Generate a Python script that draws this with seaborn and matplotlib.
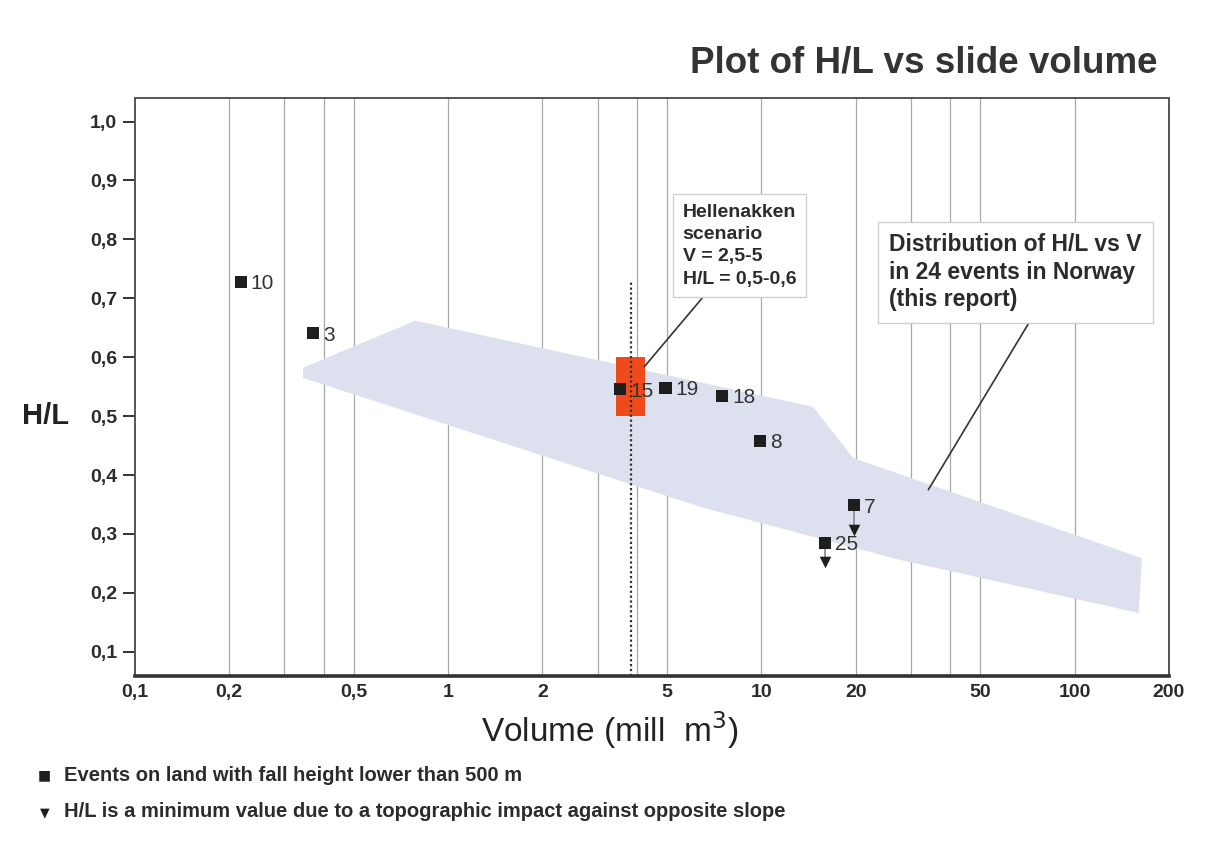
import numpy as np
import pandas as pd
import matplotlib
matplotlib.use("Agg")
import matplotlib.pyplot as plt
import seaborn as sns

# ===== Data =====
event_ids = ["10", "3", "15", "19", "18", "8", "7", "25"]
volume = [0.218, 0.371, 3.54, 4.94, 7.51, 9.91, 19.7, 16.0]
hl_ratio = [0.728, 0.641, 0.546, 0.548, 0.535, 0.458, 0.349, 0.285]

# minimum-value markers (triangles)
min_volume = [19.7, 16.0]
min_hl = [0.307, 0.252]

# distribution envelope for 24 Norwegian events
env_volume = [0.344, 0.785, 14.6, 19.6, 164, 160, 27.7, 6.38, 0.344]
env_hl = [0.582, 0.662, 0.516, 0.429, 0.259, 0.166, 0.256, 0.346, 0.565]

# Hellenakken scenario box
scen_volume = [3.43, 4.24]
scen_hl = [0.5, 0.6]
dotted_volume = 3.83
dotted_top = 0.731

x_ticks = [0.1, 0.2, 0.5, 1, 2, 5, 10, 20, 50, 100, 200]
x_ticklabels = ["0,1", "0,2", "0,5", "1", "2", "5", "10", "20", "50", "100", "200"]
x_grid = [0.2, 0.3, 0.4, 0.5, 1, 2, 3, 4, 5, 10, 20, 30, 40, 50, 100]
y_ticks = [0.1, 0.2, 0.3, 0.4, 0.5, 0.6, 0.7, 0.8, 0.9, 1.0]
y_ticklabels = ["0,1", "0,2", "0,3", "0,4", "0,5", "0,6", "0,7", "0,8", "0,9", "1,0"]

df = pd.DataFrame({"id": event_ids, "V": volume, "HL": hl_ratio})

# ===== Style =====
sns.set_style("white")
NARROW = ["Liberation Sans Narrow", "Liberation Sans", "DejaVu Sans"]
ARIAL = ["Liberation Sans", "DejaVu Sans"]
plt.rcParams["font.family"] = ARIAL
TXT = "#2b2b2b"

fig = plt.figure(figsize=(12.07, 8.49), dpi=100)
ax = fig.add_axes([0.1118, 0.2038, 0.9685 - 0.1118, 0.8846 - 0.2038])

ax.set_xscale("log")
ax.set_xlim(0.1, 200)
ax.set_ylim(0.059, 1.040)

# vertical grid lines
for g in x_grid:
    ax.axvline(g, color="#a8a8a8", lw=0.9, zorder=0)

# shaded envelope
ax.fill(env_volume, env_hl, color="#dde0ee", lw=0, zorder=1)

# scenario box + dotted line
ax.fill_between(scen_volume, scen_hl[0], scen_hl[1], color="#ee4a1c", lw=0, zorder=2)
ax.plot([dotted_volume, dotted_volume], [0.059, dotted_top], color="#333333",
        lw=1.6, ls=(0, (1, 1.2)), zorder=3)

# min-value connectors and triangles
for v, h_top, h_min in zip(volume[-2:], hl_ratio[-2:], min_hl):
    ax.plot([v, v], [h_top, h_min], color="#888888", lw=1.2, zorder=3)
ax.scatter(min_volume, min_hl, marker="v", s=70, color="#1e1e1e", lw=0, zorder=4)

# events
sns.scatterplot(data=df, x="V", y="HL", marker="s", s=75, color="#1e1e1e",
                edgecolor="none", ax=ax, zorder=5, legend=False)
for _, r in df.iterrows():
    ax.annotate(r["id"], (r["V"], r["HL"]), xytext=(7, -1.5), textcoords="offset points",
                va="center", ha="left", fontsize=15, color="#333333", zorder=6)

# annotation boxes
box = dict(boxstyle="square,pad=0.5", fc="white", ec="#cfcfcf", lw=1)
ax.annotate("Hellenakken\nscenario\nV = 2,5-5\nH/L = 0,5-0,6",
            xy=(4.23, 0.584), xytext=(5.6, 0.86), textcoords="data",
            ha="left", va="top", fontsize=14, fontweight="bold", color=TXT,
            linespacing=1.4, bbox=box, zorder=7,
            arrowprops=dict(arrowstyle="-", color="#333333", lw=1.2,
                            shrinkA=0, shrinkB=0, relpos=(0.25, 0)))
ax.annotate("Distribution of H/L vs V\nin 24 events in Norway\n(this report)",
            xy=(34.1, 0.375), xytext=(25.6, 0.81), textcoords="data",
            ha="left", va="top", fontsize=16.5, fontweight="bold", color=TXT,
            linespacing=1.25, bbox=box, zorder=7,
            arrowprops=dict(arrowstyle="-", color="#333333", lw=1.2,
                            shrinkA=0, shrinkB=0, relpos=(0.58, 0)))

# axes, ticks
ax.set_xticks(x_ticks)
ax.set_xticklabels(x_ticklabels)
ax.xaxis.set_minor_locator(matplotlib.ticker.NullLocator())
ax.set_yticks(y_ticks)
ax.set_yticklabels(y_ticklabels)
ax.tick_params(axis="x", bottom=False, length=0, pad=6)
ax.tick_params(axis="y", left=True, length=9, width=1.4, color="#333333", pad=4,
               direction="out")
for lab in ax.get_xticklabels() + ax.get_yticklabels():
    lab.set_fontfamily(NARROW)
    lab.set_fontweight("bold")
    lab.set_fontsize(14)
    lab.set_color(TXT)

for side in ["left", "right", "top"]:
    ax.spines[side].set_color("#555555")
    ax.spines[side].set_linewidth(1.4)
ax.spines["bottom"].set_color("#333333")
ax.spines["bottom"].set_linewidth(2.6)

ax.set_xlabel("")
ax.set_ylabel("")

# titles and labels
fig.text(0.959, 0.926, "Plot of H/L vs slide volume", ha="right", va="center",
         fontsize=26.5, fontweight="bold", color="#333333")
fig.text(0.038, 0.51, "H/L", ha="center", va="center", fontsize=21,
         fontweight="bold", color="#222222")
fig.text(0.505, 0.14, "Volume (mill  m$^3$)", ha="center", va="center",
         fontsize=24, color="#222222", family=NARROW)

# footnote legend
fig.text(0.037, 0.087, "\u25A0", ha="center", va="center", fontsize=10, color="#1e1e1e",
         family=["DejaVu Sans"])
fig.text(0.053, 0.087, "Events on land with fall height lower than 500 m", ha="left",
         va="center", fontsize=14.5, fontweight="bold", color=TXT, family=NARROW)
fig.text(0.037, 0.042, "\u25BC", ha="center", va="center", fontsize=9, color="#1e1e1e",
         family=["DejaVu Sans"])
fig.text(0.053, 0.044, "H/L is a minimum value due to a topographic impact against opposite slope",
         ha="left", va="center", fontsize=14.5, fontweight="bold", color=TXT, family=NARROW)

fig.savefig("out.png", dpi=100, facecolor="white")
